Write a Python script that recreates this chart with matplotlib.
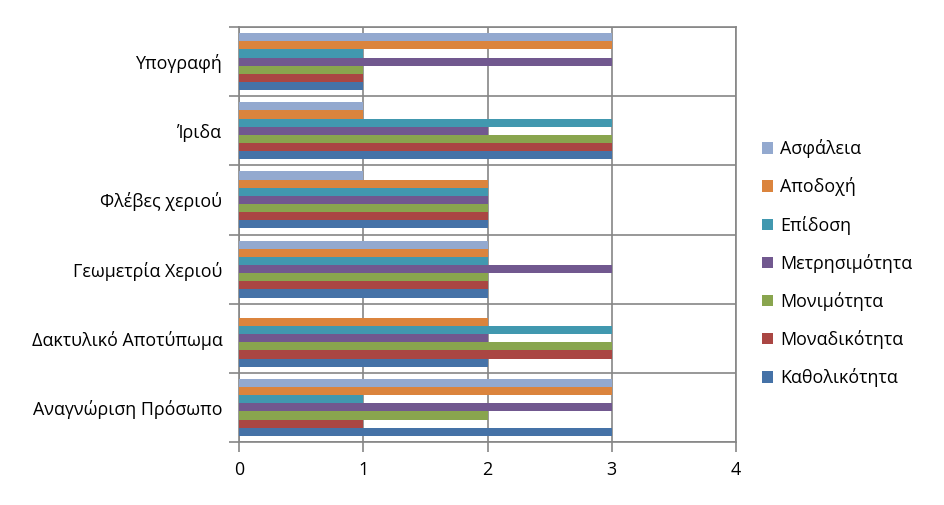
import numpy as np
import matplotlib.pyplot as plt
from matplotlib.patches import Patch

plt.rcParams['font.family'] = ['Open Sans', 'DejaVu Sans']

# categories, bottom to top
categories = ['Αναγνώριση Πρόσωπο', 'Δακτυλικό Αποτύπωμα', 'Γεωμετρία Χεριού',
              'Φλέβες χεριού', 'Ίριδα', 'Υπογραφή']

series_names = ['Καθολικότητα', 'Μοναδικότητα', 'Μονιμότητα', 'Μετρησιμότητα',
                'Επίδοση', 'Αποδοχή', 'Ασφάλεια']

# one list per series, in category order
katholikotita = [3, 2, 2, 2, 3, 1]
monadikotita = [1, 3, 2, 2, 3, 1]
monimotita = [2, 3, 2, 2, 3, 1]
metrisimotita = [3, 2, 3, 2, 2, 3]
epidosi = [1, 3, 2, 2, 3, 1]
apodoxi = [3, 2, 2, 2, 1, 3]
asfaleia = [3, 0, 2, 1, 1, 3]

series_values = [katholikotita, monadikotita, monimotita, metrisimotita,
                 epidosi, apodoxi, asfaleia]
colors = ['#4572A7', '#AA4643', '#89A54E', '#71588F', '#4198AF', '#DB843D', '#93A9CF']

fig = plt.figure(figsize=(9.45, 5.05), dpi=100)
ax = fig.add_axes([239 / 945, 63 / 505, 497 / 945, 415 / 505])

fs = 12.9
n = len(series_names)
bar_h = 0.118
y = np.arange(len(categories))
for i, (name, vals) in enumerate(zip(series_names, series_values)):
    offset = (i - (n - 1) / 2) * bar_h
    ax.barh(y + offset, vals, height=bar_h, color=colors[i], label=name, zorder=3)

grid_c = '#868686'
ax.set_xlim(0, 4)
ax.set_ylim(-0.5, len(categories) - 0.5)
ax.set_xticks(range(5))
ax.set_yticks(y)
ax.set_yticklabels(categories)
ax.set_yticks(np.arange(-0.5, len(categories)), minor=True)
ax.tick_params(axis='y', which='major', length=0, pad=12, labelsize=fs)
ax.tick_params(axis='y', which='minor', length=7, color=grid_c, width=1.2)
ax.tick_params(axis='x', which='major', length=7, color=grid_c, width=1.2,
               labelsize=fs, pad=7)
ax.grid(axis='x', which='major', color=grid_c, linewidth=1.2, zorder=0)
ax.grid(axis='y', which='minor', color=grid_c, linewidth=1.2, zorder=0)
for s in ax.spines.values():
    s.set_color(grid_c)
    s.set_linewidth(1.2)

handles = [Patch(facecolor=colors[i], label=series_names[i]) for i in range(n - 1, -1, -1)]
fig.legend(handles=handles, loc='upper left', bbox_to_anchor=(755 / 945, 1 - 132 / 505),
           frameon=False, fontsize=fs, handlelength=0.6, handleheight=0.6,
           handletextpad=0.4, labelspacing=1.07, borderaxespad=0)

fig.savefig('out.png', dpi=100)
